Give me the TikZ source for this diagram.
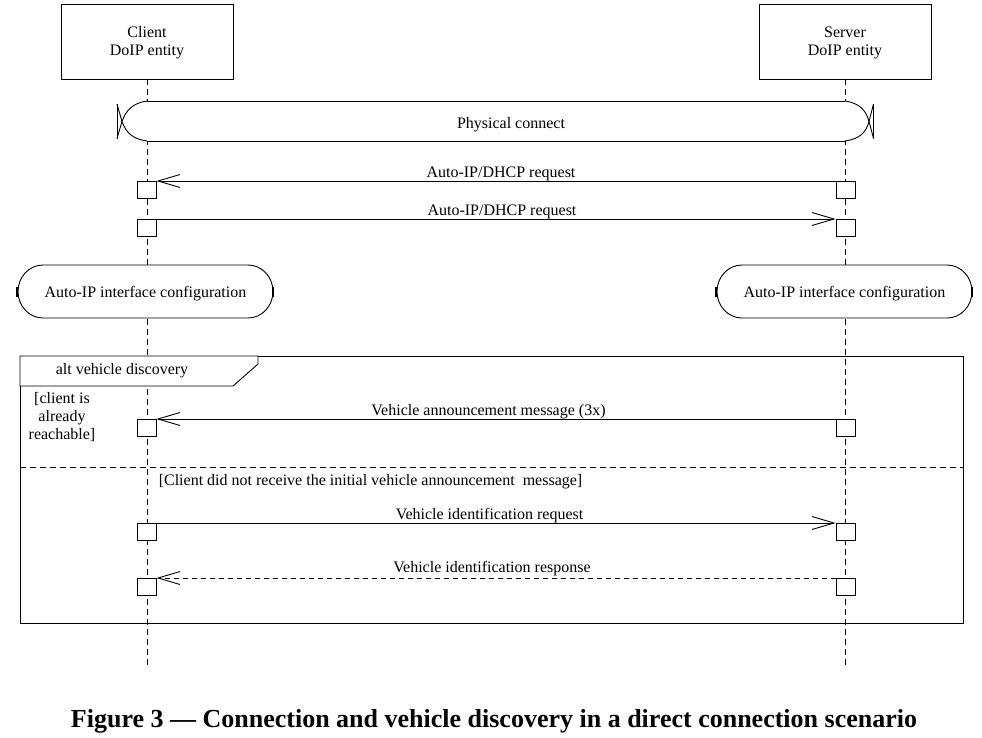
\documentclass[tikz,border=0pt]{standalone}
\usepackage{fontspec}
\setmainfont{Liberation Serif}
\usetikzlibrary{arrows.meta}
\begin{document}
\begin{tikzpicture}[x=1pt,y=-1pt, line width=0.9pt,
  every node/.style={font=\fontsize{16}{18}\selectfont, inner sep=0pt},
  obj/.style={draw, minimum width=172pt, minimum height=75pt, align=center, fill=white},
  act/.style={draw, fill=white, minimum width=19pt, minimum height=17pt, anchor=north},
  life/.style={dash pattern=on 6pt off 4pt, line width=0.8pt},
  msg/.style={-{Straight Barb[length=22pt,width=13pt]}},
  reply/.style={msg, dash pattern=on 5pt off 4pt},
  lbl/.style={above=-0.5pt}
]
\useasboundingbox[fill=white] (0,0) rectangle (982,737);

% objects and lifelines
\node[obj] (client) at (147,41.5) {\strut Client\\DoIP entity};
\node[obj] (server) at (845,41.5) {\strut Server\\DoIP entity};
\coordinate (cend) at (147,668);
\coordinate (send) at (845,668);
\draw[life] (client.south) -- (cend);
\draw[life] (server.south) -- (send);

% physical connect
\path[fill=white] (147,101) -- (845,101) .. controls (859,103) and (866,110) .. (869,121.5)
  .. controls (866,133) and (859,139) .. (845,141) -- (147,141)
  .. controls (133,139) and (126,133) .. (122,121.5) .. controls (126,110) and (133,103) .. (147,101) -- cycle;
\draw (147,101) -- (845,101);
\draw (147,141) -- (845,141);
\draw (147,101) .. controls (133,103) and (126,110) .. (122,121.5) -- (117,138.5);
\draw (147,141) .. controls (133,139) and (126,133) .. (122,121.5) -- (117,104);
\draw (117,104) -- (117,138.5);
\draw (845,101) .. controls (859,103) and (866,110) .. (869,121.5) -- (873.5,138.5);
\draw (845,141) .. controls (859,139) and (866,133) .. (869,121.5) -- (873.5,104);
\draw (873.5,104) -- (873.5,138.5);
\node (phys) at (511,124.5) {Physical connect};

% Auto-IP/DHCP requests
\node[act] (c1) at (146.5,181) {};
\node[act] (s1) at (845.5,181) {};
\draw[msg] (s1.north west) -- node[lbl, xshift=5pt] {Auto-IP/DHCP request} (c1.north east);
\node[act] (c2) at (146.5,219) {};
\node[act] (s2) at (845.5,219) {};
\draw[msg] (c2.north east) -- node[lbl, xshift=6pt] {Auto-IP/DHCP request} (s2.north west);

% Auto-IP interface configuration
\draw[fill=white] (43,265) -- (248,265) arc[start angle=-90,end angle=90,x radius=25,y radius=26.5]
  -- (43,318) arc[start angle=90,end angle=270,x radius=25,y radius=26.5] -- cycle;
\draw[line width=1.4pt] (17,287) -- (17,297);
\draw[line width=1.4pt] (273,287) -- (273,297);
\node (cfgc) at (145.5,293.5) {Auto-IP interface configuration};
\draw[fill=white] (742,265) -- (947,265) arc[start angle=-90,end angle=90,x radius=25,y radius=26.5]
  -- (742,318) arc[start angle=90,end angle=270,x radius=25,y radius=26.5] -- cycle;
\draw[line width=1.4pt] (716,287) -- (716,297);
\draw[line width=1.4pt] (972,287) -- (972,297);
\node (cfgs) at (844.5,293.5) {Auto-IP interface configuration};

% alt frame
\draw (20,356) rectangle (963,623);
\draw[fill=white] (20,356) -- (258,356) -- (258,364) -- (233,386) -- (20,386) -- cycle;
\node (alt) at (122,370.5) {alt vehicle discovery};
\node[align=center] (guard1) at (62,417) {[client is\\already\\reachable]};

\node[act] (c3) at (146.5,419) {};
\node[act] (s3) at (845.5,419) {};
\draw[msg] (s3.north west) -- node[lbl, xshift=-7.5pt] {Vehicle announcement message (3x)} (c3.north east);

\draw[dash pattern=on 6pt off 4pt] (20,467) -- (963,467);
\node (guard2) at (370.5,481.5) {[Client did not receive the initial vehicle announcement\ \ message]};

\node[act] (c4) at (146.5,523) {};
\node[act] (s4) at (845.5,523) {};
\draw[msg] (c4.north east) -- node[lbl, xshift=-6.5pt] {Vehicle identification request} (s4.north west);
\node[act] (c5) at (146.5,578) {};
\node[act] (s5) at (845.5,578) {};
\draw[reply] (s5.north west) -- node[lbl, xshift=-4pt, yshift=2pt] {Vehicle identification response} (c5.north east);

% caption
\node[font=\fontsize{26}{30}\selectfont\bfseries] (caption) at (494,721) {Figure 3 — Connection and vehicle discovery in a direct connection scenario};
\end{tikzpicture}
\end{document}
